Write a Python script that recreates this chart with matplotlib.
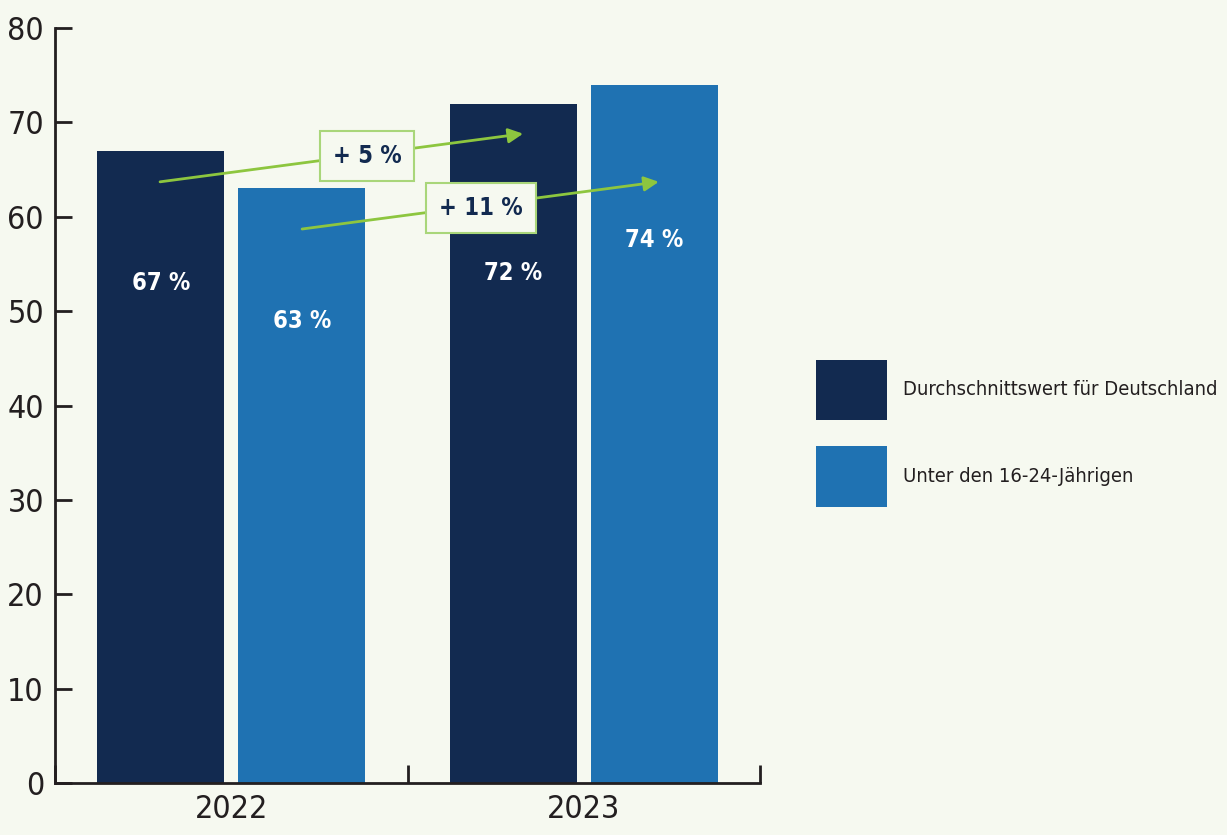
import matplotlib
matplotlib.use("Agg")
import matplotlib.pyplot as plt
from matplotlib import font_manager
import numpy as np

# Daten
years = ["2022", "2023"]
series_names = ["Durchschnittswert für Deutschland", "Unter den 16-24-Jährigen"]
avg_de = [67, 72]
young = [63, 74]
changes = ["+ 5 %", "+ 11 %"]

# Farben
bg = "#f6f9f0"
dark = "#122a50"
blue = "#1f72b2"
green = "#8dc63f"
green_box = "#a9d67a"
ink = "#231f20"

installed = {f.name for f in font_manager.fontManager.ttflist}
if "Liberation Sans Narrow" in installed:
    plt.rcParams["font.family"] = ["Liberation Sans Narrow", "DejaVu Sans"]
else:
    plt.rcParams["font.family"] = ["DejaVu Sans"]
    plt.rcParams["font.stretch"] = "condensed"

fig = plt.figure(figsize=(12.27, 8.35), dpi=100, facecolor=bg)
ax = fig.add_axes([55 / 1227, 52 / 835, 705 / 1227, 755 / 835])
ax.set_facecolor(bg)

x = np.arange(len(years)) + 0.5
w = 0.36
off = 0.2
b1 = ax.bar(x - off, avg_de, w, color=dark, label=series_names[0], zorder=2)
b2 = ax.bar(x + off, young, w, color=blue, label=series_names[1], zorder=2)

# Wertebeschriftungen in den Balken
drops = [[14, 18], [14, 16.5]]
for bars, vals, dr in ((b1, avg_de, drops[0]), (b2, young, drops[1])):
    for rect, v, d in zip(bars, vals, dr):
        ax.text(rect.get_x() + rect.get_width() / 2, v - d, f"{v} %",
                ha="center", va="center", color="white",
                fontsize=17, fontweight="bold", zorder=3)

# Veränderungspfeile
arrow_pts = [((0.298, 63.7), (1.328, 68.8)), ((0.701, 58.7), (1.713, 63.7))]
box_pts = [(0.885, 66.4), (1.209, 60.9)]
for (p0, p1), bp, lab in zip(arrow_pts, box_pts, changes):
    ax.annotate("", xy=p1, xytext=p0,
                arrowprops=dict(arrowstyle="-|>", color=green, lw=2,
                                mutation_scale=22, shrinkA=0, shrinkB=0),
                zorder=4)
    ax.text(bp[0], bp[1], lab, ha="center", va="center", color=dark,
            fontsize=17, fontweight="bold", zorder=5,
            bbox=dict(boxstyle="square,pad=0.55", fc=bg, ec=green_box, lw=1.5))

ax.set_xlim(0, 2)
ax.set_ylim(0, 80)
ax.set_yticks(np.arange(0, 81, 10))
ax.set_xticks(x)
ax.set_xticklabels(years)
ax.set_xticks([0, 1, 2], minor=True)

for s in ("top", "right"):
    ax.spines[s].set_visible(False)
for s in ("left", "bottom"):
    ax.spines[s].set_color(ink)
    ax.spines[s].set_linewidth(2)

ax.tick_params(axis="y", direction="in", length=12, width=2, color=ink,
               labelsize=23, labelcolor=ink, pad=8)
ax.tick_params(axis="x", which="major", length=0, labelsize=23,
               labelcolor=ink, pad=8)
ax.tick_params(axis="x", which="minor", direction="in", length=13, width=2,
               color=ink)

fs = 14.5
px = fs * 100 / 72
ax.legend(loc="upper left", bbox_to_anchor=(816 / 1227, 1 - 360 / 835),
          bbox_transform=fig.transFigure, frameon=False, fontsize=fs,
          handlelength=71 / px, handleheight=1.4 * 61 / px,
          handletextpad=16 / px, labelspacing=26 / px,
          borderpad=0, borderaxespad=0, labelcolor=ink)

fig.savefig("out.png", dpi=100, facecolor=bg)
